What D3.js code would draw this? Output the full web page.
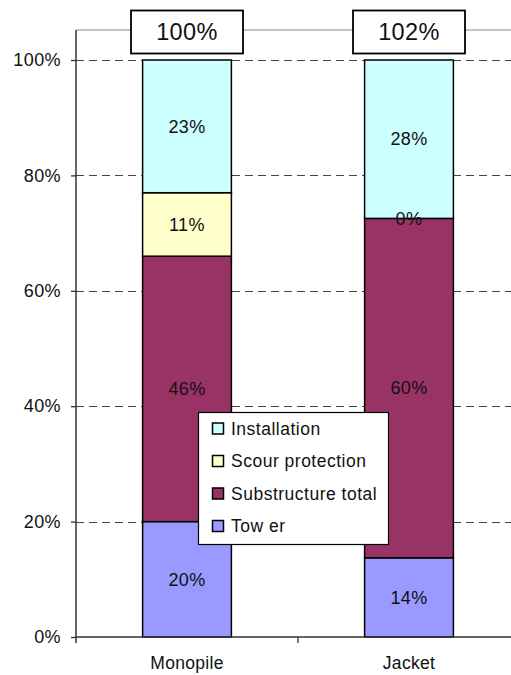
<!DOCTYPE html>
<html>
<head>
<meta charset="utf-8">
<script src="https://cdn.jsdelivr.net/npm/d3@7"></script>
<style>
  html, body { margin: 0; padding: 0; background: #fff; }
  svg { display: block; font-family: "Liberation Sans", Arial, sans-serif; }
</style>
</head>
<body>
<svg id="chart" width="511" height="675"></svg>
<script>
// Cost shares per foundation type (percent of the monopile total)
const categories = ["Monopile", "Jacket"];
const seriesNames = ["Tower", "Substructure total", "Scour protection", "Installation"];
const legendLabels = ["Installation", "Scour protection", "Substructure total", "Tow er"];
const tower = [20, 14];
const substructure = [46, 60];
const scour = [11, 0];
const installation = [23, 28];
const yTicks = [0, 0.2, 0.4, 0.6, 0.8, 1.0];
const colors = {
  "Tower": "#9999ff",
  "Substructure total": "#993366",
  "Scour protection": "#ffffcc",
  "Installation": "#ccffff"
};

const rows = categories.map((c, i) => ({
  category: c,
  "Tower": tower[i],
  "Substructure total": substructure[i],
  "Scour protection": scour[i],
  "Installation": installation[i]
}));
const totals = rows.map(r => d3.sum(seriesNames, k => r[k]));

// 100% stacked layout
const stacked = d3.stack().keys(seriesNames).offset(d3.stackOffsetExpand)(rows);

const svg = d3.select("#chart");
const plot = { left: 76, right: 520, bottom: 637, top100: 60, frameTop: 30 };

const x = d3.scaleBand().domain(categories)
  .range([plot.left, plot.right]).paddingInner(0.6).paddingOuter(0.3);
const y = d3.scaleLinear().domain([0, 1]).range([plot.bottom, plot.top100]);

// frame top line
svg.append("line")
  .attr("x1", plot.left).attr("x2", plot.right)
  .attr("y1", plot.frameTop).attr("y2", plot.frameTop)
  .attr("stroke", "#888").attr("stroke-width", 1.2);

// dashed gridlines
svg.append("g").selectAll("line").data(yTicks.filter(t => t > 0)).join("line")
  .attr("x1", plot.left).attr("x2", plot.right)
  .attr("y1", d => Math.round(y(d)) + 0.5).attr("y2", d => Math.round(y(d)) + 0.5)
  .attr("stroke", "#444").attr("stroke-width", 1)
  .attr("stroke-dasharray", "8,5");

// y axis
const yAxis = d3.axisLeft(y).tickValues(yTicks).tickFormat(d3.format(".0%"))
  .tickSize(5).tickPadding(10);
const gy = svg.append("g").attr("transform", `translate(${plot.left},0)`).call(yAxis);
gy.select(".domain").remove();
gy.selectAll(".tick line").attr("stroke", "#333").attr("stroke-width", 1.3);
gy.selectAll(".tick text").attr("font-size", 18).attr("letter-spacing", 0.4)
  .attr("fill", "#111").attr("font-family", "Liberation Sans, Arial, sans-serif");
svg.append("line")
  .attr("x1", plot.left).attr("x2", plot.left)
  .attr("y1", plot.frameTop).attr("y2", plot.bottom + 6)
  .attr("stroke", "#333").attr("stroke-width", 1.5);

// bars
const barG = svg.append("g");
stacked.forEach(layer => {
  barG.append("g").selectAll("rect").data(layer).join("rect")
    .attr("x", d => x(d.data.category))
    .attr("width", x.bandwidth())
    .attr("y", d => y(d[1]))
    .attr("height", d => y(d[0]) - y(d[1]))
    .attr("fill", colors[layer.key])
    .attr("stroke", "#000").attr("stroke-width", 1.5);
});

// x axis
svg.append("line")
  .attr("x1", plot.left).attr("x2", plot.right)
  .attr("y1", plot.bottom).attr("y2", plot.bottom)
  .attr("stroke", "#333").attr("stroke-width", 1.5);
const boundaries = [plot.left + x.step(), plot.right];
svg.append("g").selectAll("line").data(boundaries).join("line")
  .attr("x1", d => d).attr("x2", d => d)
  .attr("y1", plot.bottom).attr("y2", plot.bottom + 6)
  .attr("stroke", "#333").attr("stroke-width", 1.3);
svg.append("g").selectAll("text").data(categories).join("text")
  .attr("x", d => x(d) + x.bandwidth() / 2)
  .attr("y", 669)
  .attr("text-anchor", "middle")
  .attr("font-size", 17.5).attr("letter-spacing", 0.3)
  .attr("fill", "#111")
  .text(d => d);

// segment value labels
const labelG = svg.append("g");
stacked.forEach(layer => {
  labelG.append("g").selectAll("text").data(layer).join("text")
    .attr("x", d => x(d.data.category) + x.bandwidth() / 2)
    .attr("y", d => (y(d[0]) + y(d[1])) / 2)
    .attr("dy", "0.35em")
    .attr("text-anchor", "middle")
    .attr("font-size", 18).attr("letter-spacing", 0.4)
    .attr("fill", "#111")
    .text(d => d.data[layer.key] + "%");
});

// total boxes above bars
const totalG = svg.append("g").selectAll("g").data(categories).join("g")
  .attr("transform", d => `translate(${x(d) + x.bandwidth() / 2},0)`);
totalG.append("rect")
  .attr("x", -56).attr("y", 10.5).attr("width", 112).attr("height", 43)
  .attr("fill", "#fff").attr("stroke", "#000").attr("stroke-width", 1.8);
totalG.append("text")
  .attr("y", 32).attr("dy", "0.35em")
  .attr("text-anchor", "middle")
  .attr("font-size", 23.5).attr("letter-spacing", 0.4)
  .attr("fill", "#111")
  .text((d, i) => totals[i] + "%");

// legend
const legend = svg.append("g").attr("transform", "translate(198.5,412.5)");
legend.append("rect")
  .attr("width", 190).attr("height", 132)
  .attr("fill", "#fff").attr("stroke", "#000").attr("stroke-width", 1.2);
const legendKeys = ["Installation", "Scour protection", "Substructure total", "Tower"];
const items = legend.selectAll("g.item").data(legendKeys).join("g")
  .attr("class", "item")
  .attr("transform", (d, i) => `translate(14,${16 + i * 32.5})`);
items.append("rect")
  .attr("x", 0).attr("y", -5.5).attr("width", 11).attr("height", 11)
  .attr("fill", d => colors[d]).attr("stroke", "#000").attr("stroke-width", 1.5);
items.append("text")
  .attr("x", 18.5).attr("dy", "0.35em")
  .attr("font-size", 17.5).attr("letter-spacing", 0.5)
  .attr("fill", "#111")
  .text((d, i) => legendLabels[i]);
</script>
</body>
</html>
